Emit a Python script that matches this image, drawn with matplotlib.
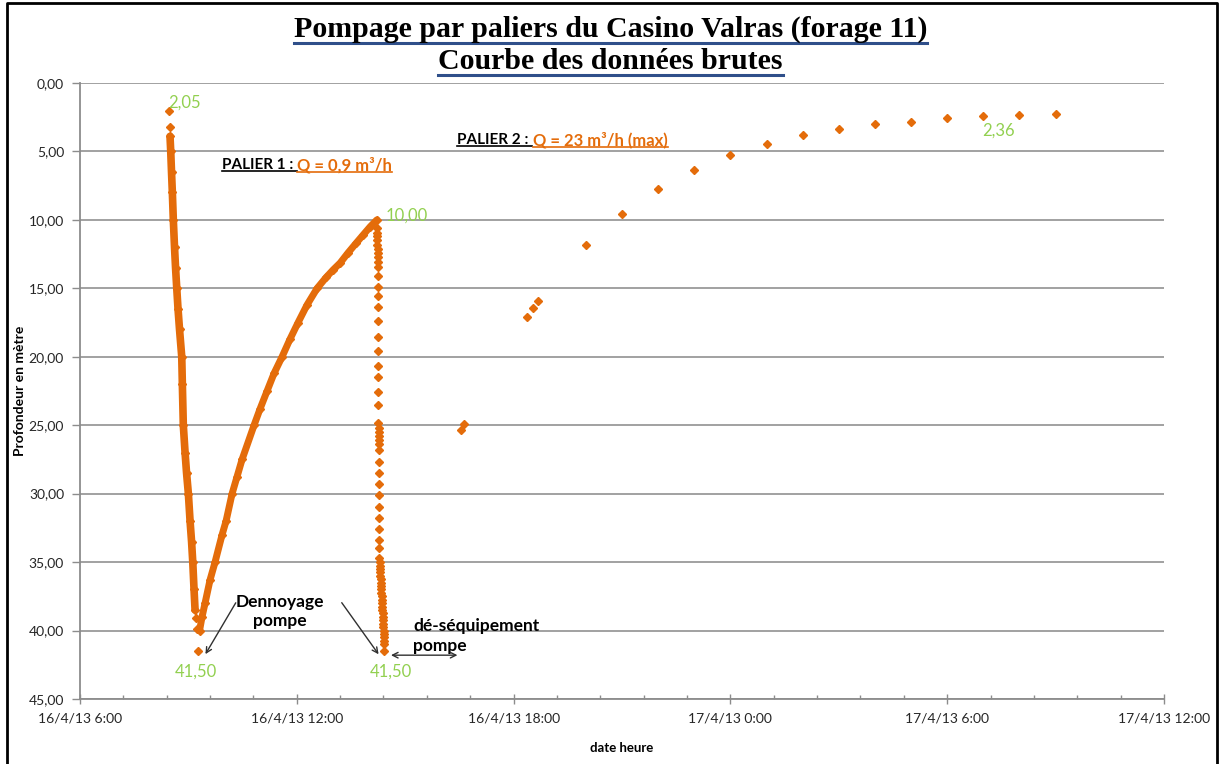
import matplotlib
matplotlib.use("Agg")
import matplotlib.pyplot as plt
import matplotlib.dates as mdates
from matplotlib.ticker import MultipleLocator, FuncFormatter
from matplotlib.lines import Line2D
from matplotlib.transforms import IdentityTransform
import pandas as pd

# ---- data ----
# palier 1 : descente (temps, profondeur)
descente_t = ["08:28:24", "08:28:42", "08:29:30", "08:30:42", "08:32:00", "08:33:24",
              "08:35:00", "08:37:00", "08:38:42", "08:40:42", "08:42:48", "08:45:18",
              "08:49:00", "08:50:00", "08:51:36", "08:54:30", "08:57:00", "09:00:00",
              "09:02:48", "09:05:18", "09:07:18", "09:09:24", "09:11:06", "09:12:42",
              "09:14:24", "09:16:36"]
descente_p = [2.05, 3.2, 3.9, 5.0, 6.5, 8.0, 10.0, 12.0, 13.5, 15.0, 16.5, 18.0,
              20.0, 22.0, 25.0, 27.0, 28.5, 30.0, 32.0, 33.5, 35.0, 37.0, 38.5, 39.1,
              39.9, 41.5]

# remontee apres dennoyage
remontee_t = ["09:18:36", "09:22:42", "09:27:42", "09:36:00", "09:44:18", "09:56:00",
              "10:02:36", "10:12:36", "10:20:54", "10:29:12", "10:49:06", "10:59:06",
              "11:10:42", "11:22:24", "11:35:36", "11:48:54", "12:02:12", "12:17:12",
              "12:33:48", "12:48:48", "13:00:24", "13:12:00", "13:25:18", "13:38:36",
              "13:50:12", "14:01:54", "14:13:00"]
remontee_p = [40.0, 39.0, 38.0, 36.3, 35.0, 33.0, 32.0, 30.0, 28.75, 27.5, 25.0, 23.8,
              22.5, 21.2, 20.0, 18.7, 17.5, 16.2, 15.0, 14.2, 13.65, 13.15, 12.4, 11.7,
              11.1, 10.5, 10.0]

# de-equipement pompe
deseq_t = ["14:13:36", "14:13:42", "14:13:48", "14:13:54", "14:14:00", "14:14:06",
           "14:14:12", "14:14:18", "14:14:24", "14:14:30", "14:14:36", "14:14:42",
           "14:14:48", "14:14:54", "14:15:00", "14:15:06", "14:15:12", "14:15:18",
           "14:15:24", "14:15:30", "14:15:36", "14:15:42", "14:15:48", "14:15:54",
           "14:16:00", "14:16:06", "14:16:12", "14:16:18", "14:16:24", "14:16:30",
           "14:16:36", "14:16:42", "14:16:48", "14:16:54", "14:17:00", "14:17:06",
           "14:17:12", "14:17:18", "14:17:40", "14:18:00", "14:18:20", "14:18:40",
           "14:19:00", "14:19:20", "14:19:40", "14:20:00", "14:20:20", "14:20:40",
           "14:21:00", "14:21:20", "14:21:40", "14:22:00", "14:22:20", "14:22:40",
           "14:23:00", "14:23:20", "14:23:40", "14:24:00", "14:24:10", "14:24:20",
           "14:24:30", "14:24:40", "14:24:50", "14:25:06"]
deseq_p = [10.6, 10.93, 11.2, 11.5, 11.8, 12.1, 12.4, 12.7, 13.05, 13.46, 14.07, 14.88,
           15.54, 16.38, 17.38, 18.53, 19.55, 20.65, 21.45, 22.57, 23.52, 24.86, 25.2,
           25.5, 25.8, 26.1, 26.4, 26.8, 27.7, 28.5, 29.3, 30.1, 31.0, 31.8, 32.6, 33.4,
           34.0, 34.7, 35.0, 35.25, 35.5, 35.75, 36.0, 36.25, 36.5, 36.75, 37.0, 37.25,
           37.5, 37.75, 38.0, 38.25, 38.5, 38.75, 39.0, 39.25, 39.5, 39.75, 40.0, 40.25,
           40.5, 40.75, 41.0, 41.5]

# palier 2
palier2_t = ["2013-04-16 16:33", "2013-04-16 16:38", "2013-04-16 18:23", "2013-04-16 18:32",
             "2013-04-16 18:41", "2013-04-16 20:00", "2013-04-16 21:00", "2013-04-16 22:00",
             "2013-04-16 23:00", "2013-04-17 00:00", "2013-04-17 01:00", "2013-04-17 02:00",
             "2013-04-17 03:00", "2013-04-17 04:00", "2013-04-17 05:00", "2013-04-17 06:00",
             "2013-04-17 07:00", "2013-04-17 08:00", "2013-04-17 09:00"]
palier2_p = [25.35, 24.93, 17.1, 16.46, 15.9, 11.83, 9.57, 7.74, 6.38, 5.26, 4.46, 3.8,
             3.36, 2.97, 2.83, 2.53, 2.43, 2.36, 2.26]

jour = "2013-04-16 "
descente_t = pd.to_datetime([jour + s for s in descente_t])
remontee_t = pd.to_datetime([jour + s for s in remontee_t])
deseq_t = pd.to_datetime([jour + s for s in deseq_t])
palier2_t = pd.to_datetime(palier2_t)

def T(s):
    return mdates.date2num(pd.Timestamp(s))

orange = "#E46C0A"
green = "#92D050"
txtcol = "#262626"

plt.rcParams["font.family"] = ["Lato", "DejaVu Sans"]

fig = plt.figure(figsize=(12.21, 7.64), dpi=100)
ax = fig.add_axes([0.0655, 0.0851, 0.8878, 0.8063])

# points
ax.plot(descente_t[2:23], descente_p[2:23], color=orange, lw=5.5, marker="D", ms=4,
        solid_capstyle="round", zorder=3)
ax.plot(descente_t[:2], descente_p[:2], ls="none", color=orange, marker="D", ms=4, zorder=3)
ax.plot(descente_t[23:], descente_p[23:], ls="none", color=orange, marker="D", ms=4, zorder=3)
ax.plot(remontee_t, remontee_p, color=orange, lw=5, marker="D", ms=4,
        solid_capstyle="round", solid_joinstyle="round", zorder=3)
ax.plot(deseq_t, deseq_p, ls="none", color=orange, marker="D", ms=4, zorder=3)
ax.plot(palier2_t, palier2_p, ls="none", color=orange, marker="D", ms=4, zorder=3)

# axes
ax.set_ylim(45, 0)
ax.set_xlim(T("2013-04-16 06:00"), T("2013-04-17 12:00"))
ax.yaxis.set_major_locator(MultipleLocator(5))
ax.yaxis.set_major_formatter(FuncFormatter(lambda v, p: f"{v:.2f}".replace(".", ",")))
ax.xaxis.set_major_locator(MultipleLocator(0.25))
ax.xaxis.set_minor_locator(MultipleLocator(0.05))

def fmt_date(v, p):
    d = mdates.num2date(v)
    return f"{d.day}/{d.month}/{d.strftime('%y')} {d.hour}:{d.minute:02d}"

ax.xaxis.set_major_formatter(FuncFormatter(fmt_date))
ax.grid(axis="y", color="#9A9A9A", lw=1.3)
ax.set_axisbelow(True)
for s in ["top", "right"]:
    ax.spines[s].set_visible(False)
for s in ["left", "bottom"]:
    ax.spines[s].set_color("#8C8C8C")
    ax.spines[s].set_linewidth(1.3)
ax.tick_params(axis="y", direction="out", length=5.5, width=1, color="#8C8C8C",
               pad=6, labelsize=10, labelcolor=txtcol)
ax.tick_params(axis="x", which="major", direction="inout", length=7, width=1,
               color="#8C8C8C", pad=6, labelsize=10, labelcolor=txtcol)
ax.tick_params(axis="x", which="minor", direction="in", length=3, width=1, color="#8C8C8C")
ax.set_ylabel("Profondeur en mètre", fontsize=10, fontweight="bold", labelpad=2)
ax.set_xlabel("date heure", fontsize=9.5, fontweight="bold", labelpad=13)

# valeurs remarquables
lab = dict(color=green, fontsize=12, va="center")
ax.text(T("2013-04-16 08:27"), 1.4, "2,05", ha="left", **lab)
ax.text(T("2013-04-16 14:28"), 9.7, "10,00", ha="left", **lab)
ax.text(T("2013-04-16 09:12"), 43.0, "41,50", ha="center", **lab)
ax.text(T("2013-04-16 14:37"), 43.0, "41,50", ha="center", **lab)
ax.text(T("2013-04-17 07:25"), 3.45, "2,36", ha="center", **lab)

# annotations
ax.text(T("2013-04-16 11:32"), 38.6, "Dennoyage\npompe", fontsize=12.5, fontweight="bold",
        ha="center", va="center", linespacing=1.25)
arrow = dict(arrowstyle="->", color="#303030", lw=1)
ax.annotate("", xy=(T("2013-04-16 09:26"), 41.9), xytext=(T("2013-04-16 10:21"), 37.8),
            arrowprops=arrow)
ax.annotate("", xy=(T("2013-04-16 14:18:30"), 41.9), xytext=(T("2013-04-16 13:12"), 37.8),
            arrowprops=arrow)
ax.text(T("2013-04-16 15:13"), 40.4, "dé-séquipement\npompe", fontsize=12.5, fontweight="bold",
        ha="left", va="center", linespacing=1.25)
ax.annotate("", xy=(T("2013-04-16 14:31:48"), 41.8), xytext=(T("2013-04-16 16:31:24"), 41.8),
            arrowprops=dict(arrowstyle="<->", color="#303030", lw=1))

p1a = ax.text(T("2013-04-16 12:00"), 6.0, "PALIER 1 : ", fontsize=11, fontweight="bold",
              color="black", ha="right", va="center")
p1b = ax.text(T("2013-04-16 12:01"), 6.0, "Q = 0,9 m³/h", fontsize=12, fontweight="bold",
              color=orange, ha="left", va="center")
p2a = ax.text(T("2013-04-16 18:31"), 4.16, "PALIER 2 : ", fontsize=11, fontweight="bold",
              color="black", ha="right", va="center")
p2b = ax.text(T("2013-04-16 18:32"), 4.16, "Q = 23 m³/h (max)", fontsize=12, fontweight="bold",
              color=orange, ha="left", va="center")

# titre
t1 = fig.text(0.5, 0.961, "Pompage par paliers du Casino Valras (forage 11)",
              family="Liberation Serif", fontsize=21.5, fontweight="bold", ha="center", va="center")
t2 = fig.text(0.5, 0.919, "Courbe des données brutes",
              family="Liberation Serif", fontsize=21.5, fontweight="bold", ha="center", va="center")

# cadre
fig.add_artist(Line2D([0.006, 0.006, 0.997, 0.997], [0.0, 0.996, 0.996, 0.0],
                      transform=fig.transFigure, color="black", lw=2))

# soulignements
fig.canvas.draw()
renderer = fig.canvas.get_renderer()

def underline(txt, color, lw, off):
    bb = txt.get_window_extent(renderer)
    fig.add_artist(Line2D([bb.x0, bb.x1], [bb.y0 + off, bb.y0 + off],
                          transform=IdentityTransform(), color=color, lw=lw))

underline(t1, "#2F4F8A", 2.2, 0)
underline(t2, "#2F4F8A", 2.2, 0)
for t, c in [(p1a, "black"), (p1b, orange), (p2a, "black"), (p2b, orange)]:
    underline(t, c, 1.2, 1)

fig.savefig("out.png", dpi=100)
